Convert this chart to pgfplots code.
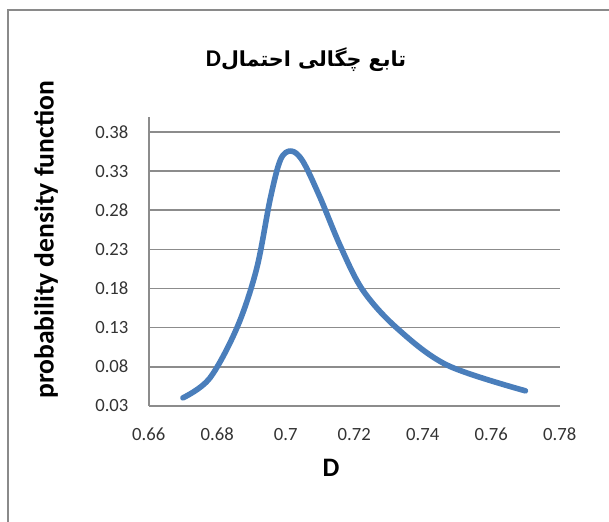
\documentclass[border=0pt]{standalone}
\usepackage{fontspec}
\setmainfont{Carlito}
\newfontfamily\arabicfont[Script=Arabic]{DejaVu Sans}
\TeXXeTstate=1
\usepackage{pgfplots}
\pgfplotsset{compat=1.18}
\definecolor{curve}{HTML}{4A7EBB}
\definecolor{gridc}{HTML}{8C8C8C}
\definecolor{framec}{HTML}{8A8A8A}
\begin{document}
\begin{tikzpicture}
\path[use as bounding box] (0pt,0pt) rectangle (456.75pt,390.75pt);
\draw[framec, line width=1.5pt] (6pt,-2pt) -- (6pt,383.25pt) -- (458pt,383.25pt);
\begin{axis}[
  at={(111.5pt,86.5pt)}, anchor=south west,
  scale only axis, width=308.25pt, height=216.75pt,
  xmin=0.66, xmax=0.78, ymin=0.03, ymax=0.40,
  axis x line*=bottom, axis y line*=left,
  axis line style={gridc, line width=1.5pt, -},
  xtick={0.66,0.68,0.70,0.72,0.74,0.76,0.78},
  xticklabels={0.66,0.68,0.7,0.72,0.74,0.76,0.78},
  ytick={0.03,0.08,0.13,0.18,0.23,0.28,0.33,0.38},
  yticklabels={0.03,0.08,0.13,0.18,0.23,0.28,0.33,0.38},
  major tick length=0pt,
  ymajorgrids, grid style={gridc, line width=1.4pt},
  tick label style={font=\fontsize{14}{16}\selectfont, text=black!80},
  xticklabel style={anchor=center, yshift=-21.75pt},
  yticklabel style={anchor=east, inner sep=0pt, xshift=-15pt},
  clip=false,
]
\addplot[curve, line width=4.2pt, line cap=round, line join=round, smooth, tension=0.55] coordinates {
(0.670,0.040)
(0.6778,0.065)
(0.6858,0.130)
(0.6915,0.205)
(0.6955,0.295)
(0.6985,0.345)
(0.7016,0.356)
(0.7050,0.343)
(0.7100,0.297)
(0.7160,0.234)
(0.7225,0.178)
(0.7323,0.130)
(0.7471,0.082)
(0.770,0.049)
};
\end{axis}
\node at (229.5pt,345.75pt) {\bfseries\fontsize{18}{20}\selectfont D{\arabicfont\fontsize{15.5}{18}\selectfont\beginR تابع چگالی احتمال\endR}};
\node[rotate=90] at (34.5pt,210.75pt) {\fontsize{20.7}{24}\selectfont\bfseries probability density function};
\node at (248.25pt,39.75pt) {\fontsize{20}{24}\selectfont\bfseries D};
\end{tikzpicture}
\end{document}
